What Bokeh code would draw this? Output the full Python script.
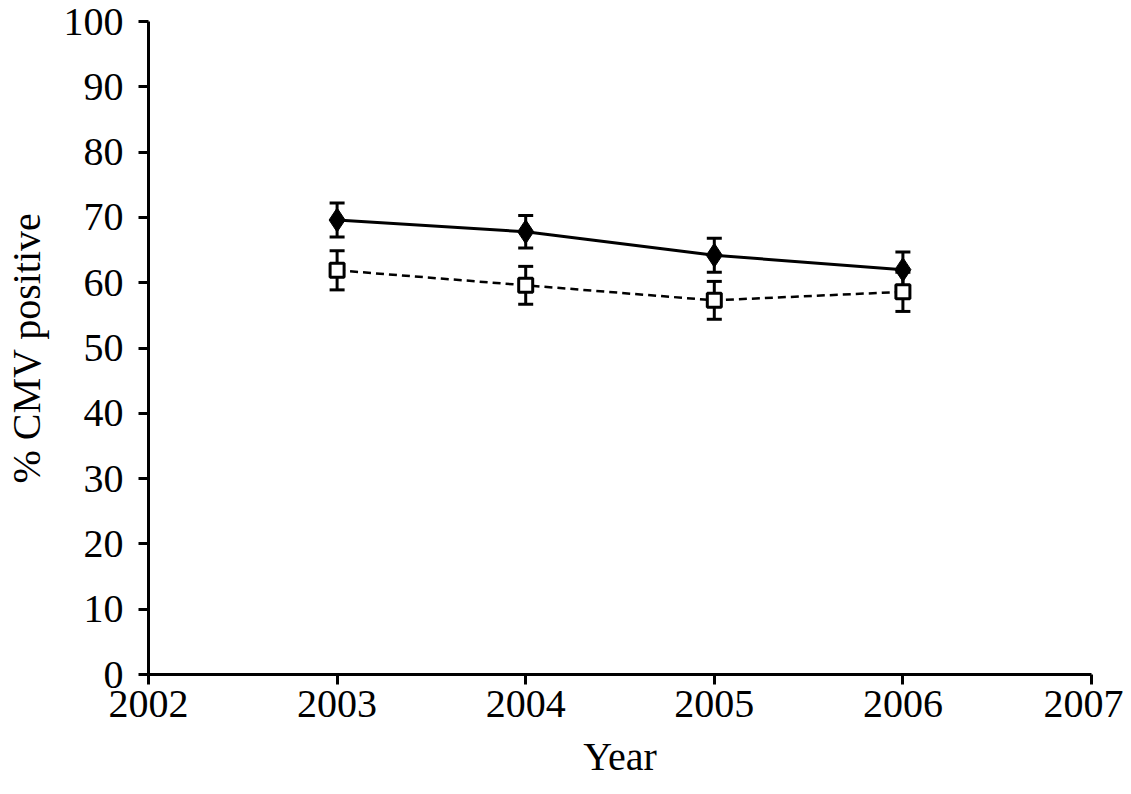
from bokeh.plotting import figure
from bokeh.models import ColumnDataSource, Whisker, TeeHead, FixedTicker, Range1d
from bokeh.embed import file_html
from bokeh.resources import INLINE

years = [2003, 2004, 2005, 2006]
series_a = [69.6, 67.8, 64.2, 62.0]
err_a = [2.6, 2.5, 2.6, 2.7]
series_b = [61.9, 59.6, 57.3, 58.6]
err_b = [3.0, 2.9, 2.9, 3.0]
x_ticks = [2002, 2003, 2004, 2005, 2006, 2007]
y_ticks = [0, 10, 20, 30, 40, 50, 60, 70, 80, 90, 100]

FONT = "Liberation Serif"

p = figure(width=1123, height=786, output_backend="svg", toolbar_location=None,
           x_range=Range1d(2002, 2007), y_range=Range1d(0, 100),
           min_border_left=148, min_border_right=32, min_border_top=21, min_border_bottom=112)
p.outline_line_color = None
p.grid.visible = False
p.background_fill_color = "white"

for ax in (p.xaxis[0], p.yaxis[0]):
    ax.axis_line_width = 3
    ax.axis_line_color = "black"
    ax.major_tick_line_width = 3
    ax.major_tick_line_color = "black"
    ax.major_tick_out = 10
    ax.major_tick_in = 0
    ax.minor_tick_out = 0
    ax.minor_tick_in = 0
    ax.major_label_text_font = FONT
    ax.major_label_text_font_size = "40px"
    ax.major_label_text_color = "black"
    ax.axis_label_text_font = FONT
    ax.axis_label_text_font_size = "40px"
    ax.axis_label_text_font_style = "normal"
    ax.axis_label_text_color = "black"

p.xaxis[0].ticker = FixedTicker(ticks=x_ticks)
p.yaxis[0].ticker = FixedTicker(ticks=y_ticks)
p.xaxis[0].axis_label = "Year"
p.yaxis[0].axis_label = "% CMV positive"
p.xaxis[0].major_label_standoff = 6
p.yaxis[0].major_label_standoff = 15
p.xaxis[0].axis_label_standoff = 14
p.yaxis[0].axis_label_standoff = 12

src_a = ColumnDataSource(dict(x=years, y=series_a,
                              lo=[v - e for v, e in zip(series_a, err_a)],
                              hi=[v + e for v, e in zip(series_a, err_a)]))
src_b = ColumnDataSource(dict(x=years, y=series_b,
                              lo=[v - e for v, e in zip(series_b, err_b)],
                              hi=[v + e for v, e in zip(series_b, err_b)]))

for src in (src_a, src_b):
    w = Whisker(base="x", upper="hi", lower="lo", source=src, line_width=3, line_color="black",
                upper_head=TeeHead(size=15, line_width=3, line_color="black"),
                lower_head=TeeHead(size=15, line_width=3, line_color="black"))
    p.add_layout(w)

p.line("x", "y", source=src_a, line_color="black", line_width=3)
p.line("x", "y", source=src_b, line_color="black", line_width=2.5, line_dash="8 5")
p.scatter("x", "y", source=src_a, marker="diamond", size=24, fill_color="black", line_color="black")
p.scatter("x", "y", source=src_b, marker="square", size=14, fill_color="white", line_color="black", line_width=3)

open("out.html", "w").write(file_html(p, INLINE))
